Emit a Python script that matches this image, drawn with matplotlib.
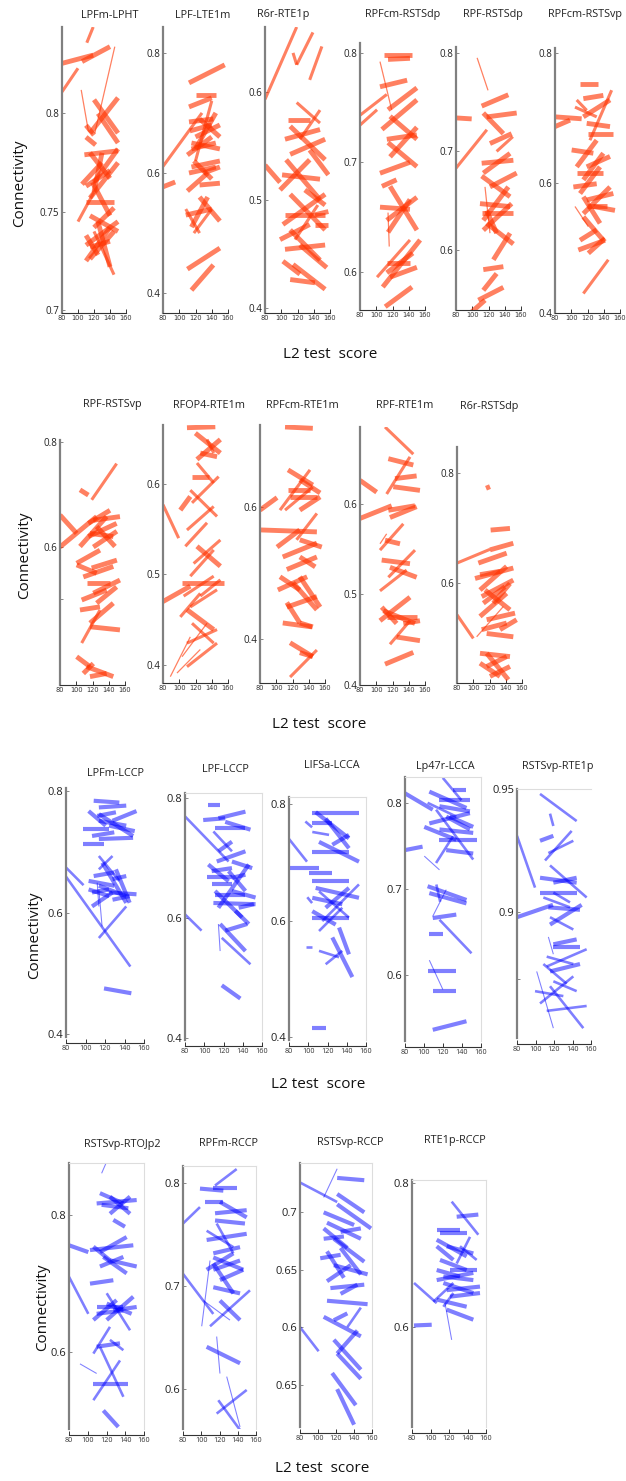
import matplotlib.pyplot as plt

plt.rcParams['font.family'] = ['Open Sans', 'DejaVu Sans']

# each segment: (score start, connectivity start, score end, connectivity end, weight)
lpfm_lpht = [
    (80, .8255, 119, .8297, 3), (105, .8264, 140, .834, 3), (80, .811, 100, .823, 2),
    (111, .836, 119, .844, 2), (146, .834, 121, .790, 1), (104, .812, 113, .791, 1),
    (120, .807, 150, .790, 3), (115, .790, 150, .808, 3), (110, .794, 120, .789, 3),
    (110, .788, 122, .784, 3), (108, .779, 150, .781, 3), (115, .780, 140, .767, 3),
    (120, .765, 150, .782, 3), (105, .764, 130, .775, 3), (110, .763, 140, .771, 3),
    (115, .757, 150, .775, 3), (110, .755, 145, .755, 3), (118, .765, 140, .748, 3),
    (100, .745, 120, .760, 2), (115, .748, 150, .740, 3), (120, .742, 145, .752, 3),
    (110, .733, 150, .745, 3), (115, .732, 140, .735, 3), (110, .725, 140, .742, 3),
    (115, .726, 145, .740, 3), (120, .740, 145, .718, 2), (125, .745, 140, .722, 3),
    (110, .738, 125, .728, 3), (130, .780, 120, .760, 3), (125, .800, 150, .785, 3),
]
lpf_lte1m = [
    (80, .611, 128, .700, 2), (80, .577, 95, .585, 3), (112, .750, 156, .780, 3),
    (112, .710, 140, .725, 3), (113, .670, 140, .680, 3), (112, .685, 142, .690, 3),
    (120, .730, 145, .730, 3), (120, .660, 150, .680, 3), (115, .650, 150, .640, 3),
    (110, .630, 140, .660, 3), (120, .640, 145, .700, 3), (115, .610, 150, .620, 3),
    (112, .600, 145, .610, 3), (118, .620, 140, .590, 3), (110, .570, 135, .600, 3),
    (125, .580, 150, .583, 3), (108, .530, 140, .540, 3), (108, .540, 125, .500, 2),
    (115, .510, 135, .560, 3), (125, .560, 150, .520, 3), (118, .500, 140, .540, 2),
    (110, .440, 150, .475, 3), (115, .405, 142, .447, 3), (125, .690, 150, .660, 3),
    (140, .720, 120, .620, 2), (130, .600, 150, .610, 3), (115, .640, 145, .650, 3),
]
r6r_rte1p = [
    (80, .593, 119, .660, 2), (114.5, .636, 119, .625, 2), (119, .625, 139, .655, 2),
    (135, .611, 150, .642, 2), (80, .532, 98.5, .516, 3), (119, .590, 147.7, .571, 2),
    (108, .574, 135, .574, 3), (111, .568, 154, .537, 3), (104.6, .556, 147.7, .565, 3),
    (111, .542, 154, .556, 3), (106, .537, 147.7, .500, 3), (101, .523, 147.7, .519, 3),
    (98.5, .509, 135, .537, 3), (111, .505, 154, .472, 3), (104.6, .486, 154, .486, 3),
    (102, .477, 154, .505, 3), (98.5, .463, 135, .477, 3), (111, .472, 147.7, .444, 3),
    (104.6, .454, 154, .458, 3), (102, .443, 123, .431, 3), (111, .426, 141.5, .423, 3),
    (114.5, .440, 154, .417, 3), (123, .458, 156, .437, 3), (129, .509, 154, .495, 3),
    (135, .546, 158, .523, 3), (141.5, .486, 158, .489, 3), (141.5, .477, 158, .477, 3),
    (123, .556, 147.7, .583, 2), (117, .463, 145, .495, 2),
]
rpfcm_rstsdp = [
    (80, .743, 113, .762, 2), (80, .734, 101, .748, 2), (104.6, .792, 119, .748, 1),
    (109.5, .798, 144, .798, 3), (114.5, .794, 141.5, .795, 3), (104.6, .769, 138, .775, 3),
    (114.5, .748, 150, .768, 3), (107, .730, 150, .757, 3), (117, .742, 150, .721, 3),
    (113, .721, 150, .725, 3), (104.6, .690, 141.5, .700, 3), (114.5, .718, 150, .696, 3),
    (117, .705, 150, .732, 3), (107, .678, 125, .684, 3), (104.6, .659, 141.5, .657, 3),
    (113, .647, 150, .668, 3), (117, .678, 150, .638, 3), (114.5, .636, 141.5, .666, 3),
    (114.5, .654, 116, .623, 1), (101, .595, 141.5, .629, 2), (113, .608, 141.5, .608, 3),
    (113, .599, 145, .617, 3), (108, .586, 154, .629, 3), (111, .568, 144, .586, 3),
    (117, .595, 150, .604, 3),
]
rpf_rstsdp = [
    (80, .734, 99.3, .733, 3), (80, .683, 118, .722, 2), (106, .795, 119.4, .762, 1),
    (111.6, .746, 144.4, .7575, 3), (113.6, .739, 138.3, .718, 3), (121.8, .708, 148.5, .718, 3),
    (117.7, .735, 154.7, .739, 3), (111.6, .688, 150.6, .691, 3), (113.6, .678, 146.5, .698, 3),
    (111.6, .675, 146.5, .654, 3), (121.8, .664, 154.7, .678, 3), (109.5, .647, 146.5, .644, 3),
    (111.6, .637, 150.6, .637, 3), (113.6, .630, 144.4, .664, 3), (113.6, .620, 148.5, .647, 3),
    (117.7, .627, 150.6, .606, 3), (115.7, .664, 121.8, .617, 1), (113.6, .580, 138.3, .583, 3),
    (126, .590, 146.5, .617, 3), (107.5, .549, 138.3, .562, 3), (99.3, .537, 115.7, .549, 3),
    (113.6, .559, 130, .576, 3), (117.7, .640, 130, .617, 3), (130, .700, 150, .715, 2),
]
rpfcm_rstsvp = [
    (80, .702, 112.8, .699, 3), (80, .687, 98.5, .697, 3), (110.8, .753, 133.3, .753, 3),
    (114.9, .730, 139.5, .735, 3), (106.7, .728, 119, .712, 2), (104.6, .717, 131.3, .702, 2),
    (119, .692, 147.7, .687, 3), (114.9, .702, 147.7, .728, 3), (121, .676, 151.8, .676, 3),
    (123, .666, 149.7, .743, 2), (100.5, .651, 127.2, .646, 3), (106.7, .625, 131.3, .666, 3),
    (106.7, .615, 139.5, .615, 3), (119, .625, 147.7, .641, 3), (114.9, .605, 139.5, .646, 3),
    (102.6, .594, 131.3, .599, 3), (110.8, .584, 135.4, .625, 3), (119, .564, 143.6, .564, 3),
    (114.9, .553, 147.7, .594, 3), (114.9, .548, 139.5, .512, 3), (119, .574, 151.8, .584, 3),
    (127.2, .564, 153.8, .558, 3), (104.6, .564, 121, .533, 1), (110.8, .512, 131.3, .528, 3),
    (108.7, .497, 141.5, .512, 3), (121, .492, 141.5, .515, 3), (114.9, .430, 145.6, .482, 2),
    (114.9, .579, 135.4, .538, 3),
]
rpf_rstsvp = [
    (80, .661, 100.5, .626, 3), (80, .600, 125.1, .658, 3), (104.6, .709, 114.9, .699, 3),
    (119, .690, 149.7, .759, 2), (114.9, .645, 141.5, .670, 3), (114.9, .620, 149.7, .645, 3),
    (116.9, .626, 145.6, .620, 3), (121, .651, 153.8, .658, 3), (125.1, .639, 147.7, .601, 3),
    (104.6, .601, 137.4, .658, 3), (100.5, .569, 129.2, .594, 3), (100.5, .566, 125.1, .550, 3),
    (108.7, .543, 145.6, .563, 3), (112.8, .531, 141.5, .531, 3), (106.7, .499, 137.4, .518, 3),
    (104.6, .480, 129.2, .486, 3), (116.9, .455, 145.6, .493, 3), (116.9, .448, 153.8, .442, 3),
    (106.7, .417, 129.2, .480, 2), (125.1, .493, 149.7, .524, 3), (121, .512, 153.8, .537, 3),
    (100.5, .391, 116.9, .372, 3), (112.8, .372, 145.6, .353, 3), (116.9, .353, 137.4, .359, 3),
    (108.7, .359, 121, .378, 3), (119, .560, 150, .575, 3), (121, .600, 150, .630, 3),
]
rfop4_rte1m = [
    (80, .577, 99.3, .540, 2), (80, .470, 113.6, .487, 3), (101.3, .571, 113.6, .586, 3),
    (109.5, .662, 144.4, .663, 3), (119.8, .656, 150.6, .634, 3), (121.8, .627, 150.6, .649, 3),
    (125.9, .634, 146.5, .630, 3), (134.2, .649, 142.4, .634, 2), (115.7, .608, 136.2, .608, 3),
    (121.8, .623, 142.4, .601, 2), (113.6, .593, 146.5, .564, 2), (115.7, .579, 148.5, .608, 2),
    (109.5, .549, 142.4, .575, 2), (107.5, .531, 134.2, .557, 2), (121.8, .531, 150.6, .509, 3),
    (117.7, .512, 150.6, .538, 2), (113.6, .498, 142.4, .527, 2), (103.4, .490, 154.7, .490, 3),
    (105.4, .476, 142.4, .498, 2), (113.6, .464, 146.5, .483, 2), (101.3, .453, 125.9, .479, 2),
    (109.5, .461, 142.4, .439, 3), (115.7, .446, 142.4, .424, 2), (109.5, .424, 146.5, .439, 2),
    (103.4, .409, 134.2, .446, 1), (97.2, .391, 125.9, .417, 1), (89, .387, 113.6, .431, 1),
    (109.5, .398, 146.5, .424, 2), (125.9, .476, 150.6, .494, 2),
]
rpfcm_rte1m = [
    (80, .595, 101, .614, 3), (80, .565, 150, .562, 3), (110.8, .721, 145, .719, 3),
    (114.5, .656, 145, .633, 3), (114.5, .626, 141.5, .626, 3), (117, .615, 150, .615, 3),
    (110.8, .595, 145, .630, 2), (101, .539, 129, .565, 3), (108, .524, 150, .545, 3),
    (113, .505, 150, .524, 3), (104.6, .494, 129, .474, 3), (102, .474, 138, .494, 3),
    (113, .448, 150, .464, 3), (108, .424, 144, .418, 3), (117, .394, 145, .373, 3),
    (117, .342, 150, .383, 2), (113, .455, 129, .424, 3), (120.6, .485, 150, .444, 3),
    (129, .641, 154, .621, 3), (129, .595, 154, .615, 3), (129, .550, 156, .539, 3),
    (129, .524, 148, .509, 3), (129, .494, 154, .448, 3), (129, .424, 145, .418, 3),
    (129, .379, 145, .373, 3), (125, .550, 150, .590, 2), (104.6, .595, 141.5, .656, 2),
]
rpf_rte1m = [
    (80, .626, 100.5, .613, 3), (80, .584, 119, .598, 3), (110.8, .685, 145.6, .655, 2),
    (114.9, .650, 145.6, .643, 3), (123.1, .628, 149.7, .631, 3), (121, .619, 153.8, .615, 3),
    (112.8, .611, 141.5, .652, 2), (114.9, .593, 147.7, .598, 3), (116.9, .585, 149.7, .597, 3),
    (104.6, .549, 133.3, .578, 2), (110.8, .560, 129.2, .556, 3), (106.7, .538, 141.5, .534, 3),
    (114.9, .519, 147.7, .549, 2), (104.6, .504, 137.4, .527, 2), (116.9, .530, 149.7, .519, 3),
    (104.6, .471, 141.5, .497, 3), (108.7, .482, 147.7, .468, 3), (112.8, .475, 149.7, .475, 3),
    (106.7, .486, 125.1, .468, 3), (116.9, .445, 141.5, .471, 2), (125.1, .453, 153.8, .449, 3),
    (110.8, .423, 145.6, .436, 3), (133.3, .468, 153.8, .471, 3), (104.6, .556, 112.8, .567, 1),
]
r6r_rstsdp = [
    (80, .636, 120.6, .661, 2), (80, .542, 100.1, .499, 2), (115.7, .772, 120.6, .775, 3),
    (121.4, .696, 145.2, .699, 3), (120.6, .660, 149.3, .672, 3), (106.3, .636, 141.1, .654, 3),
    (108.3, .615, 132.9, .621, 3), (102.2, .608, 149.3, .627, 3), (108.3, .587, 141.1, .630, 3),
    (110.4, .575, 149.3, .605, 3), (112.4, .563, 139.1, .593, 3), (114.5, .587, 145.2, .551, 3),
    (108.3, .539, 141.1, .581, 3), (116.5, .533, 151.4, .545, 3), (110.4, .515, 141.1, .527, 3),
    (104.2, .502, 137, .557, 1), (116.5, .508, 149.3, .502, 3), (108.3, .472, 145.2, .466, 3),
    (108.3, .454, 132.9, .430, 3), (116.5, .448, 141.1, .466, 3), (120.6, .430, 145.2, .448, 3),
    (116.5, .472, 143.2, .424, 3), (124.7, .563, 145.2, .599, 3), (132.9, .515, 153.4, .533, 3),
]
lpfm_lccp = [
    (80, .674, 98, .645, 2), (80, .659, 146, .511, 2), (113.7, .638, 117, .577, 1),
    (113.7, .558, 141.8, .610, 2), (119, .475, 147, .467, 3), (108.4, .784, 134.7, .781, 3),
    (113.7, .773, 141.8, .776, 3), (103.2, .767, 120.7, .743, 3), (112, .759, 131.2, .765, 3),
    (113.7, .751, 141.8, .743, 3), (97.9, .737, 124.2, .737, 3), (106.7, .726, 129.5, .732, 3),
    (124.2, .743, 150.5, .734, 3), (113.7, .762, 148.8, .726, 3), (127.7, .751, 152.3, .767, 3),
    (97.9, .712, 119, .712, 3), (113.7, .721, 148.8, .723, 3), (113.7, .693, 134.7, .652, 2),
    (108.4, .660, 129.5, .666, 3), (103.2, .652, 129.5, .644, 3), (113.7, .644, 141.8, .627, 3),
    (117.2, .682, 141.8, .616, 3), (106.7, .633, 124.2, .638, 3), (103.2, .638, 124.2, .627, 3),
    (127.7, .621, 145.3, .627, 3), (127.7, .655, 141.8, .660, 3), (124.2, .633, 152.3, .630, 3),
    (113.7, .671, 127.7, .693, 2), (106.7, .610, 127.7, .633, 3), (131.2, .671, 145.3, .616, 3),
    (112, .649, 113.7, .610, 1),
]
lpf_lccp = [
    (80, .769, 125.3, .694, 2), (80, .606, 97.2, .579, 2), (103.5, .788, 116.5, .788, 3),
    (98.9, .763, 121.8, .766, 3), (114.7, .766, 142.8, .777, 3), (111.2, .749, 142.8, .749, 3),
    (121.8, .760, 148, .747, 3), (109.5, .744, 128.8, .711, 2), (114.7, .711, 128.8, .727, 3),
    (113, .694, 142.8, .711, 3), (104.2, .689, 125.3, .661, 3), (107.7, .678, 128.8, .683, 3),
    (102.5, .669, 128.8, .669, 3), (107.7, .656, 128.8, .656, 3), (111.2, .639, 142.8, .639, 3),
    (109.5, .625, 153.3, .623, 3), (128.8, .694, 149.8, .683, 3), (125.3, .678, 142.8, .645, 3),
    (128.8, .667, 142.8, .672, 3), (111.2, .645, 139.3, .601, 3), (114.7, .617, 146.3, .689, 3),
    (116.5, .590, 142.8, .545, 3), (121.8, .579, 144.6, .590, 3), (118.2, .567, 148, .523, 2),
    (132.3, .612, 146.3, .590, 3), (118.2, .488, 137.5, .466, 3), (114.7, .590, 116.5, .545, 1),
    (128.8, .645, 153.3, .634, 3), (135.8, .617, 151.6, .623, 3),
]
lifsa_lcca = [
    (80, .740, 98.7, .701, 2), (80, .691, 111, .691, 3), (104.2, .784, 152.7, .784, 3),
    (107.7, .786, 142.3, .741, 3), (104.2, .767, 125, .767, 3), (104.2, .752, 121.6, .747, 2),
    (118.1, .775, 142.3, .724, 3), (104.2, .718, 142.3, .718, 3), (111.2, .735, 152.7, .701, 3),
    (125, .730, 142.3, .747, 3), (100.8, .681, 125, .681, 3), (104.2, .667, 142.3, .667, 3),
    (107.7, .656, 152.7, .639, 3), (111.2, .650, 142.3, .605, 2), (104.2, .639, 135.4, .628, 3),
    (118.1, .622, 142.3, .656, 3), (104.2, .605, 142.3, .605, 3), (114.6, .599, 152.7, .662, 2),
    (104.2, .616, 128.5, .593, 3), (111.2, .582, 135.4, .622, 2), (111.2, .548, 132, .537, 2),
    (118.1, .525, 135.4, .548, 2), (125, .571, 145.8, .503, 3), (132, .588, 142.3, .542, 3),
    (104.2, .415, 118.1, .415, 3), (97, .770, 104, .760, 2), (99, .640, 104, .630, 2),
    (98, .555, 104, .555, 2),
]
lp47r_lcca = [
    (80, .811, 109.2, .792, 3), (80, .745, 98.5, .749, 3), (103.8, .800, 134, .784, 2),
    (105.6, .813, 144.7, .794, 3), (119.8, .829, 139.4, .803, 2), (105.6, .776, 148.3, .788, 3),
    (116.3, .803, 148.3, .803, 3), (116.3, .796, 148.3, .790, 3), (123.4, .784, 148.3, .769, 3),
    (130.5, .815, 144.7, .815, 3), (112.7, .792, 151.8, .734, 2), (126.9, .784, 151.8, .772, 3),
    (116.3, .769, 151.8, .765, 3), (116.3, .757, 155.4, .757, 3), (100.3, .772, 134, .757, 3),
    (123.4, .745, 151.8, .741, 3), (112.7, .730, 130.5, .761, 2), (100.3, .738, 116.3, .722, 1),
    (103.8, .703, 144.7, .687, 3), (105.6, .695, 144.7, .683, 3), (109.2, .668, 123.4, .699, 1),
    (116.3, .664, 150, .625, 2), (109.2, .666, 134, .670, 3), (105.6, .647, 119.8, .647, 3),
    (105.6, .617, 119.8, .583, 1), (103.8, .604, 134, .604, 3), (109.2, .581, 134, .581, 3),
    (109.2, .536, 144.7, .546, 3), (113, .705, 117, .685, 2),
]
rstsvp_rte1p = [
    (80, .898, 118.9, .903, 3), (80, .931, 99.5, .910, 2), (104.9, .948, 144.5, .937, 2),
    (115.7, .940, 119.3, .935, 2), (104.9, .929, 119.3, .931, 3), (110.3, .921, 139.1, .933, 2),
    (113.9, .924, 140.9, .929, 2), (115.7, .919, 155.3, .906, 2), (104.9, .914, 144.5, .912, 3),
    (119.3, .912, 144.5, .914, 3), (104.9, .908, 144.5, .908, 3), (108.5, .906, 137.3, .902, 2),
    (115.7, .895, 149.9, .903, 3), (113.9, .902, 148.1, .901, 3), (115.7, .898, 140.9, .893, 2),
    (119.3, .887, 144.5, .889, 3), (119.3, .886, 148.1, .886, 3), (112.1, .882, 140.9, .879, 2),
    (115.7, .876, 148.1, .879, 3), (112.1, .878, 155.3, .885, 2), (108.5, .879, 133.7, .871, 2),
    (119.3, .872, 144.5, .868, 2), (99.5, .868, 130.1, .866, 2), (104.9, .863, 140.9, .874, 2),
    (112.1, .860, 155.3, .862, 2), (115.7, .870, 151.7, .853, 2), (101.3, .876, 119.3, .853, 1),
    (113.9, .890, 119.3, .883, 1), (119.3, .908, 137.3, .904, 2),
]
rstsvp_rtojp2 = [
    (80, .756, 100.6, .746, 3), (80, .710, 100.6, .656, 2), (114.8, .861, 120.2, .878, 1),
    (113, .832, 138, .817, 3), (109.5, .817, 152.2, .822, 3), (114.8, .815, 143.3, .810, 3),
    (123.7, .827, 145.1, .802, 3), (123.7, .802, 145.1, .827, 3), (127.3, .793, 139.7, .783, 3),
    (102.4, .749, 148.6, .756, 3), (113, .746, 141.5, .768, 3), (106, .754, 123.7, .734, 3),
    (116.6, .739, 141.5, .715, 3), (102.4, .700, 127.3, .705, 3), (123.7, .734, 152.2, .725, 3),
    (113, .725, 138, .739, 3), (109.5, .666, 138, .666, 3), (109.5, .656, 138, .661, 3),
    (120.2, .671, 146.8, .656, 3), (106, .647, 130.8, .676, 3), (120.2, .647, 148.6, .681, 3),
    (120.2, .686, 145.1, .632, 2), (127.3, .661, 152.2, .666, 3), (109.5, .608, 134.4, .613, 3),
    (106, .598, 123.7, .637, 2), (123.7, .618, 138, .603, 2), (106, .554, 143.3, .554, 3),
    (106, .530, 134.4, .588, 2), (113, .608, 138, .535, 2), (116.6, .515, 132.6, .491, 3),
    (91.7, .583, 109.5, .569, 1),
]
rpfm_rccp = [
    (80, .761, 98.6, .777, 2), (80, .712, 113.2, .673, 2), (98.6, .795, 124.2, .793, 3),
    (104.1, .782, 124.2, .782, 3), (115.1, .798, 138.8, .814, 2), (113.2, .796, 138.8, .796, 3),
    (120.5, .782, 149.8, .767, 3), (115.1, .771, 149.8, .774, 3), (115.1, .764, 147.9, .761, 3),
    (105.9, .754, 135.2, .738, 2), (116.9, .761, 135.2, .732, 2), (105.9, .745, 149.8, .751, 3),
    (113.2, .732, 142.5, .738, 3), (113.2, .728, 146.1, .716, 3), (105.9, .716, 135.2, .732, 3),
    (113.2, .722, 135.2, .693, 3), (113.2, .716, 142.5, .725, 3), (120.5, .706, 146.1, .716, 3),
    (113.2, .699, 142.5, .693, 3), (120.5, .686, 142.5, .667, 3), (109.6, .661, 153.4, .696, 2),
    (100.5, .661, 109.6, .725, 1), (105.9, .641, 142.5, .625, 3), (116.9, .651, 120.5, .615, 1),
    (116.9, .576, 149.8, .599, 2), (118.7, .589, 142.5, .560, 2), (127.9, .612, 142.5, .563, 1),
    (102.3, .686, 131.5, .667, 1),
]
rstsvp_rccp = [
    (80, .726, 121.3, .709, 2), (80, .600, 100.7, .579, 2), (106.3, .713, 121.3, .738, 1),
    (121.3, .730, 151.4, .728, 3), (121.3, .716, 151.4, .700, 3), (121.3, .707, 158.9, .686, 3),
    (106.3, .700, 140.1, .689, 3), (110, .691, 147.6, .677, 3), (106.3, .686, 132.6, .669, 3),
    (125.1, .683, 147.6, .686, 3), (106.3, .677, 128.8, .679, 3), (117.6, .677, 151.4, .657, 3),
    (102.5, .660, 125.1, .663, 3), (110, .666, 128.8, .643, 3), (125.1, .669, 147.6, .646, 3),
    (117.6, .654, 155.1, .646, 3), (110, .640, 136.3, .654, 3), (113.8, .634, 151.4, .637, 3),
    (125.1, .629, 143.8, .637, 3), (110, .623, 155.1, .620, 3), (106.3, .609, 147.6, .592, 3),
    (117.6, .589, 147.6, .563, 3), (121.3, .577, 143.8, .597, 3), (121.3, .577, 147.6, .555, 3),
    (115.7, .560, 142, .532, 3), (121.3, .546, 140.1, .515, 3), (117.6, .606, 132.6, .612, 3),
    (132.6, .600, 147.6, .617, 2),
]
rte1p_rccp = [
    (82.2, .661, 106.7, .633, 2), (82.2, .602, 101.3, .603, 3), (122.9, .774, 151.7, .728, 2),
    (103.1, .635, 124.7, .661, 2), (106.7, .735, 131.9, .735, 3), (128.3, .753, 151.7, .756, 3),
    (110.3, .730, 139.1, .730, 3), (106.7, .721, 139.1, .698, 3), (117.5, .712, 146.3, .702, 3),
    (106.7, .712, 124.7, .693, 3), (110.3, .693, 139.1, .679, 3), (106.7, .679, 131.9, .670, 3),
    (113.9, .670, 146.3, .665, 3), (121.1, .679, 149.9, .679, 3), (106.7, .665, 146.3, .675, 3),
    (113.9, .661, 146.3, .647, 3), (117.5, .651, 153.5, .656, 3), (106.7, .638, 139.1, .628, 3),
    (121.1, .642, 153.5, .647, 3), (117.5, .624, 146.3, .610, 3), (113.9, .628, 124.7, .647, 2),
    (115.7, .633, 122.9, .582, 1), (128.3, .688, 142.7, .725, 2), (131.9, .712, 149.9, .693, 2),
]

titles = ['LPFm-LPHT', 'LPF-LTE1m', 'R6r-RTE1p', 'RPFcm-RSTSdp', 'RPF-RSTSdp', 'RPFcm-RSTSvp',
          'RPF-RSTSvp', 'RFOP4-RTE1m', 'RPFcm-RTE1m', 'RPF-RTE1m', 'R6r-RSTSdp',
          'LPFm-LCCP', 'LPF-LCCP', 'LIFSa-LCCA', 'Lp47r-LCCA', 'RSTSvp-RTE1p',
          'RSTSvp-RTOJp2', 'RPFm-RCCP', 'RSTSvp-RCCP', 'RTE1p-RCCP']
segments = [lpfm_lpht, lpf_lte1m, r6r_rte1p, rpfcm_rstsdp, rpf_rstsdp, rpfcm_rstsvp,
            rpf_rstsvp, rfop4_rte1m, rpfcm_rte1m, rpf_rte1m, r6r_rstsdp,
            lpfm_lccp, lpf_lccp, lifsa_lcca, lp47r_lcca, rstsvp_rte1p,
            rstsvp_rtojp2, rpfm_rccp, rstsvp_rccp, rte1p_rccp]
ylims = [(0.6985, 0.844), (0.367, 0.843), (0.395, 0.66), (0.565, 0.809), (0.539, 0.806),
         (0.4, 0.808), (0.337, 0.804), (0.38, 0.665), (0.333, 0.724), (0.4, 0.685),
         (0.418, 0.847), (0.395, 0.805), (0.397, 0.808), (0.395, 0.812), (0.523, 0.83),
         (0.849, 0.95), (0.488, 0.876), (0.561, 0.817), (0.513, 0.743), (0.461, 0.804)]
yticks = [[0.7, 0.75, 0.8], [0.4, 0.6, 0.8], [0.4, 0.5, 0.6], [0.6, 0.7, 0.8], [0.6, 0.7, 0.8],
          [0.4, 0.6, 0.8], [0.5, 0.6, 0.8], [0.4, 0.5, 0.6], [0.4, 0.6], [0.4, 0.5, 0.6],
          [0.6, 0.8], [0.4, 0.6, 0.8], [0.4, 0.6, 0.8], [0.4, 0.6, 0.8], [0.6, 0.7, 0.8],
          [0.873, 0.9, 0.95], [0.6, 0.8], [0.6, 0.7, 0.8], [0.55, 0.6, 0.65, 0.7], [0.6, 0.8]]
ytick_labels = [['0.7', '0.75', '0.8'], ['0.4', '0.6', '0.8'], ['0.4', '0.5', '0.6'],
                ['0.6', '0.7', '0.8'], ['0.6', '0.7', '0.8'], ['0.4', '0.6', '0.8'],
                ['', '0.6', '0.8'], ['0.4', '0.5', '0.6'], ['0.4', '0.6'], ['0.4', '0.5', '0.6'],
                ['0.6', '0.8'], ['0.4', '0.6', '0.8'], ['0.4', '0.6', '0.8'], ['0.4', '0.6', '0.8'],
                ['0.6', '0.7', '0.8'], ['', '0.9', '0.95'], ['0.6', '0.8'], ['0.6', '0.7', '0.8'],
                ['0.65', '0.6', '0.65', '0.7'], ['0.6', '0.8']]
xticks = [80, 100, 120, 140, 160]

# layout, in pixels: spine x, x of 160, top, bottom
boxes = [(62, 126, 27, 313), (163, 228, 27, 313), (265, 330, 27, 313), (360, 425, 43, 310),
         (456, 521, 47, 310), (555, 620, 48, 313),
         (60, 125, 440, 685), (163, 228, 425, 683), (260, 325, 425, 683), (360, 425, 427, 685),
         (457, 522, 447, 683),
         (66, 144, 788, 1037), (185, 262, 793, 1040), (289, 366, 797, 1040), (405, 481, 777, 1041),
         (517, 591, 789, 1038),
         (69, 144, 1163, 1429), (183, 256, 1166, 1429), (300, 372, 1163, 1427), (412, 486, 1180, 1427)]
title_xy = [(110, 15), (203, 15), (283, 15), (403, 15), (493, 15), (585, 15),
            (112, 405), (209, 405), (302, 405), (405, 406), (489, 406),
            (115, 773), (225, 769), (332, 766), (445, 766), (558, 766),
            (122, 1144), (228, 1143), (350, 1142), (455, 1140)]
framed = [False] * 12 + [True] * 3 + ['top'] + [True] * 4
ylabel_xy = [(20, 183), (25, 555), (35, 935), (43, 1307)]
xlabel_xy = [(330, 355), (319, 724), (318, 1084), (322, 1468)]

W, H = 626, 1481
fig = plt.figure(figsize=(W / 100, H / 100), dpi=100)
widths = {1: 0.9, 2: 2.2, 3: 3.5}

for i, (name, segs) in enumerate(zip(titles, segments)):
    left, right, top, bottom = boxes[i]
    ax = fig.add_axes([left / W, 1 - bottom / H, (right - left) / W, (bottom - top) / H])
    red = i < 11
    col = '#ff3300' if red else '#0000ff'
    alpha = 0.62 if red else 0.5
    for x0, y0, x1, y1, w in segs:
        lw = widths[w] if red else widths[w] * 0.85
        ax.plot([x0, x1], [y0, y1], color=col, alpha=alpha, lw=lw, solid_capstyle='butt')
    ax.set_xlim(80, 160)
    ax.set_ylim(*ylims[i])
    ax.set_xticks(xticks)
    ax.set_yticks(yticks[i])
    ax.set_yticklabels(ytick_labels[i])
    for lab in ax.get_xticklabels():
        lab.set_fontfamily('DejaVu Sans')
    ax.spines['left'].set_color('#808080')
    ax.spines['left'].set_linewidth(1.6)
    ax.spines['bottom'].set_color('#333333')
    ax.spines['bottom'].set_linewidth(0.8)
    fr = framed[i]
    ax.spines['top'].set_visible(bool(fr))
    ax.spines['right'].set_visible(fr is True)
    ax.spines['top'].set_color('#dddddd')
    ax.spines['right'].set_color('#dddddd')
    ax.spines['top'].set_linewidth(0.8)
    ax.spines['right'].set_linewidth(0.8)
    if not red:
        ax.spines['bottom'].set_position(('outward', 4.5))
    ax.tick_params(axis='x', direction='in', length=3, width=0.7, pad=1.5,
                   labelsize=4.8 if red else 5.2, colors='#333333')
    ax.tick_params(axis='y', direction='in', length=2, width=0.7, pad=2,
                   labelsize=7 if red else 8, color='#888888', labelcolor='#222222')
    ax.patch.set_alpha(0)
    tx, ty = title_xy[i]
    fig.text(tx / W, 1 - ty / H, name, ha='center', va='center', fontsize=7.8, color='#222222')

for x, y in ylabel_xy:
    fig.text(x / W, 1 - y / H, 'Connectivity', rotation=90, ha='center', va='center',
             fontsize=11, color='#111111')
for x, y in xlabel_xy:
    fig.text(x / W, 1 - y / H, 'L2 test  score', ha='center', va='center',
             fontsize=11, color='#111111')

fig.savefig('out.png', dpi=100)
